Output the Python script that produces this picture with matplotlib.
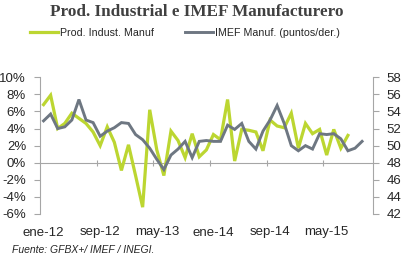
import numpy as np
import matplotlib
matplotlib.use('Agg')
import matplotlib.pyplot as plt

# monthly categories ene-12 .. nov-15
months = ['ene', 'feb', 'mar', 'abr', 'may', 'jun', 'jul', 'ago', 'sep', 'oct', 'nov', 'dic']
categories = [f'{months[m]}-{y % 100:02d}' for y in range(2012, 2016) for m in range(12)][:47]

# Prod. Indust. Manuf (% anual), ene-12 .. ago-15
prod_indust = [6.8, 7.9, 4.0, 4.6, 5.8, 5.2, 4.6, 3.6, 2.0, 4.2, 2.4, -0.9,
               2.1, -1.5, -5.2, 6.2, 1.5, -1.5, 3.7, 2.6, 0.6, 3.4, 0.7, 1.5,
               3.3, 2.7, 7.4, 0.2, 3.9, 3.8, 3.6, 1.4, 5.0, 4.3, 4.1, 5.8,
               1.7, 4.6, 3.4, 3.9, 0.9, 3.9, 1.7, 3.2]
# IMEF Manufacturero (puntos), ene-12 .. oct-15
imef = [52.9, 53.7, 52.0, 52.2, 53.0, 55.4, 53.0, 52.7, 51.1, 51.7, 52.1, 52.7,
        52.6, 51.3, 50.7, 49.7, 48.4, 47.2, 48.9, 49.6, 50.5, 48.6, 50.5, 50.6,
        50.5, 50.5, 52.4, 51.9, 52.6, 50.5, 49.6, 51.7, 53.0, 54.7, 52.6, 50.0,
        49.4, 50.0, 49.6, 51.4, 51.3, 51.4, 50.8, 49.4, 49.7, 50.5]

green = '#BCD631'
grey = '#6E7782'
axis_col = '#A6A6A6'
txt = '#262626'

plt.rcParams['font.family'] = ['Liberation Sans', 'DejaVu Sans']

fig = plt.figure(figsize=(4.02, 2.60), dpi=100)
ax = fig.add_axes([40 / 402, 1 - 214 / 260, (372.7 - 40) / 402, (214 - 77.3) / 260])
ax2 = ax.twinx()

x = np.arange(len(categories))
l1, = ax.plot(x[:len(prod_indust)], np.array(prod_indust) / 100, color=green, lw=2.3,
              solid_joinstyle='miter', label='Prod. Indust. Manuf', zorder=3)
l2, = ax2.plot(x[:len(imef)], imef, color=grey, lw=2.1, solid_joinstyle='miter',
               label='IMEF Manuf. (puntos/der.)', zorder=3)

ax.set_xlim(-0.5, len(categories) - 0.5)
ax.set_ylim(-0.06, 0.10)
ax2.set_ylim(42, 58)
ax.set_yticks(np.arange(-0.06, 0.101, 0.02))
ax.set_yticklabels([f'{v:.0f}%' for v in np.arange(-6, 11, 2)])
ax2.set_yticks(np.arange(42, 59, 2))

# category labels every 8 months at the bottom, no tick marks
lab_pos = x[::8]
ax.set_xticks(lab_pos)
ax.set_xticklabels([categories[i] for i in lab_pos])
ax.tick_params(axis='x', length=0, pad=9, labelsize=9.5, labelcolor=txt)

# horizontal axis line at 0% with tick marks on category boundaries
sec = ax.secondary_xaxis(6 / 16)
sec.set_xticks(np.arange(7.5, len(categories), 8))
sec.tick_params(axis='x', direction='inout', length=5, color=axis_col, labelbottom=False)
sec.spines['bottom'].set_color(axis_col)

for a in (ax, ax2):
    for s in ('top', 'bottom'):
        a.spines[s].set_visible(False)
ax.spines['right'].set_visible(False)
ax.spines['left'].set_color(axis_col)
ax2.spines['left'].set_visible(False)
ax2.spines['right'].set_color(axis_col)

ax.tick_params(axis='y', direction='out', length=4, color=axis_col, pad=6,
               labelsize=9.5, labelcolor=txt)
ax2.tick_params(axis='y', direction='out', length=4, color=axis_col, pad=6,
                labelsize=9.5, labelcolor=txt)

fig.text(0.49, 0.953, 'Prod. Industrial e IMEF Manufacturero', ha='center', va='center',
         family=['Liberation Serif', 'DejaVu Serif'], fontweight='bold', fontsize=12.3,
         color='#404040')
fig.legend(handles=[l1, l2], loc='center', bbox_to_anchor=(0.46, 0.873), ncol=2,
           frameon=False, fontsize=7.7, handlelength=2.6, handletextpad=0.15,
           columnspacing=3.0, labelcolor=txt)
fig.text(12 / 402, 1 - 250 / 260, 'Fuente: GFBX+/ IMEF / INEGI.', ha='left', va='center',
         fontsize=7.5, style='italic', color=txt)

fig.savefig('out.png', dpi=100)
